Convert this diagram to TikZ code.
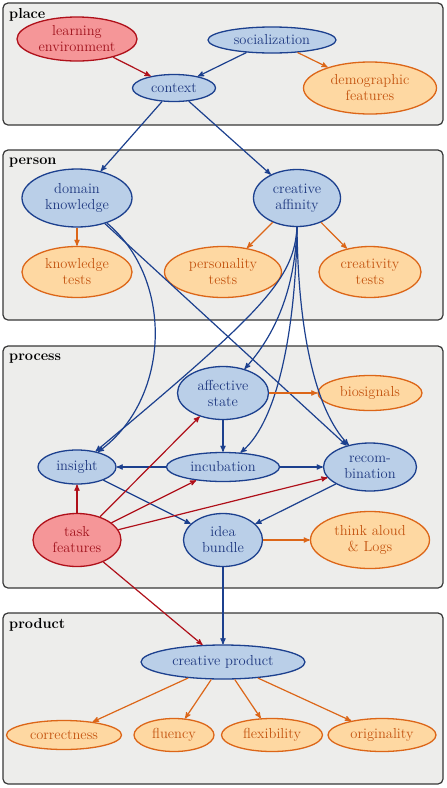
\documentclass[tikz,border=0pt]{standalone}
\usepackage{tikz}
\usepackage{amsmath}
\usetikzlibrary{arrows}
\usetikzlibrary{shapes.geometric}
\definecolor{panelfill}{RGB}{237,237,235}
\definecolor{panelline}{RGB}{55,55,55}
\definecolor{blufill}{RGB}{186,207,232}
\definecolor{bluline}{RGB}{28,64,142}
\definecolor{blutext}{RGB}{30,56,128}
\definecolor{redfill}{RGB}{245,150,152}
\definecolor{redline}{RGB}{175,16,26}
\definecolor{redtext}{RGB}{160,18,28}
\definecolor{orafill}{RGB}{254,216,162}
\definecolor{oraline}{RGB}{220,102,24}
\definecolor{oratext}{RGB}{196,84,16}
\tikzset{
panel/.style={draw=panelline, fill=panelfill, line width=1.2pt, rounded corners=5pt},
plabel/.style={anchor=base west, inner sep=0pt, font=\fontsize{14.5}{16}\selectfont\bfseries},
bnode/.style={ellipse, draw=bluline, fill=blufill, text=blutext, line width=1.3pt,
    inner sep=0pt, align=center},
rnode/.style={ellipse, draw=redline, fill=redfill, text=redtext, line width=1.3pt,
    inner sep=0pt, align=center},
onode/.style={ellipse, draw=oraline, fill=orafill, text=oratext, line width=1.3pt,
    inner sep=0pt, align=center},
bedge/.style={->, draw=bluline, line width=1.2pt},
redge/.style={->, draw=redline, line width=1.2pt},
oedge/.style={->, draw=oraline, line width=1.2pt}
}

\begin{document}
\begin{tikzpicture}[>=stealth', x=1pt, y=1pt, font=\fontsize{14.5}{16}\selectfont]
\useasboundingbox (0,0) rectangle (447,-788);

\draw[panel] (3,-3) rectangle (443,-125);
\draw[panel] (3,-150) rectangle (443,-320);
\draw[panel] (3,-346) rectangle (443,-588);
\draw[panel] (3,-613) rectangle (443,-784);
\node[plabel] (lplace) at (9,-18) {place};
\node[plabel] (lperson) at (9,-164) {person};
\node[plabel] (lprocess) at (9,-360) {process};
\node[plabel] (lproduct) at (9,-628) {product};

\node[rnode, minimum width=120, minimum height=44] (env) at (77,-39) {learning\\environment};
\node[bnode, minimum width=128, minimum height=26] (soc) at (272,-40) {socialization};
\node[bnode, minimum width=83, minimum height=27] (ctx) at (174,-88) {context};
\node[onode, minimum width=133, minimum height=52] (demo) at (370,-88) {demographic\\features};

\node[bnode, minimum width=110, minimum height=58] (dk) at (77,-198) {domain\\knowledge};
\node[bnode, minimum width=87, minimum height=57] (ca) at (297,-198) {creative\\affinity};
\node[onode, minimum width=110, minimum height=51] (kt) at (77,-272) {knowledge\\tests};
\node[onode, minimum width=117, minimum height=51] (pt) at (223,-272) {personality\\tests};
\node[onode, minimum width=102, minimum height=51] (crt) at (370,-272) {creativity\\tests};

\node[bnode, minimum width=91, minimum height=53] (aff) at (223,-393) {affective\\state};
\node[onode, minimum width=104, minimum height=35] (bio) at (370,-393) {biosignals};
\node[bnode, minimum width=78, minimum height=34] (ins) at (77,-467) {insight};
\node[bnode, minimum width=113, minimum height=29] (inc) at (223,-467) {incubation};
\node[bnode, minimum width=93, minimum height=48] (rec) at (370,-467) {recom-\\bination};
\node[rnode, minimum width=88, minimum height=53] (task) at (77,-540) {task\\features};
\node[bnode, minimum width=79, minimum height=53] (idea) at (223,-540) {idea\\bundle};
\node[onode, minimum width=119, minimum height=57] (think) at (370,-540) {think aloud\\\& Logs};

\node[bnode, minimum width=164, minimum height=34] (cp) at (223,-662) {creative product};
\node[onode, minimum width=115, minimum height=29] (corr) at (64,-735) {correctness};
\node[onode, minimum width=80, minimum height=33] (flu) at (174,-735) {fluency};
\node[onode, minimum width=101, minimum height=33] (flex) at (272,-735) {flexibility};
\node[onode, minimum width=108, minimum height=33] (orig) at (382,-735) {originality};

\draw[redge] (env) -- (ctx);
\draw[bedge] (soc) -- (ctx);
\draw[oedge] (soc) -- (demo);
\draw[bedge] (ctx) -- (dk);
\draw[bedge] (ctx) -- (ca);

\draw[oedge] (dk) -- (kt);
\draw[oedge] (ca) -- (pt);
\draw[oedge] (ca) -- (crt);
\draw[bedge] (dk) .. controls (175,-280) and (170,-400) .. (ins);
\draw[bedge] (dk) -- (rec);
\draw[bedge] (ca.south) .. controls (294,-280) and (262,-312) .. (ins);
\draw[bedge] (ca.south) .. controls (295,-290) and (275,-335) .. (aff);
\draw[bedge] (ca.south) .. controls (296,-320) and (280,-420) .. (inc);
\draw[bedge] (ca.south) .. controls (298,-330) and (315,-410) .. (rec);

\draw[oedge] (aff) -- (bio);
\draw[bedge] (aff) -- (inc);
\draw[bedge] (inc) -- (ins);
\draw[bedge] (inc) -- (rec);
\draw[bedge] (ins) -- (idea);
\draw[bedge] (rec) -- (idea);
\draw[redge] (task) -- (ins);
\draw[redge] (task) -- (aff);
\draw[redge] (task) -- (inc);
\draw[redge] (task) -- (rec);
\draw[oedge] (idea) -- (think);

\draw[bedge] (idea) -- (cp);
\draw[redge] (task) -- (cp);
\draw[oedge] (cp) -- (corr);
\draw[oedge] (cp) -- (flu);
\draw[oedge] (cp) -- (flex);
\draw[oedge] (cp) -- (orig);
\end{tikzpicture}
\end{document}
